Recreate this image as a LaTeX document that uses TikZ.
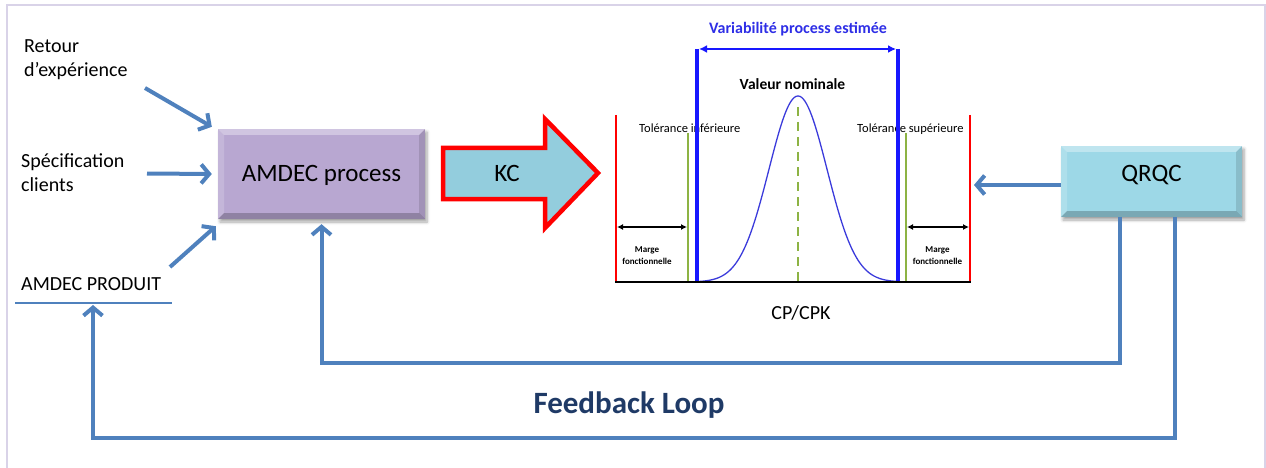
\documentclass[tikz,border=0pt]{standalone}
\usepackage{fontspec}
\setmainfont{Carlito}
\usetikzlibrary{arrows.meta,shadows.blur}
\definecolor{conn}{HTML}{4F81BD}
\definecolor{framec}{HTML}{D9D3E8}
\definecolor{amdfill}{HTML}{B8A7D1}
\definecolor{qrqcfill}{HTML}{9DD8E7}
\definecolor{kcfill}{HTML}{93CDDD}
\definecolor{tolgreen}{HTML}{8DB344}
\definecolor{titleblue}{HTML}{2E2EE6}
\definecolor{lineblue}{HTML}{1818FF}
\definecolor{gaussblue}{HTML}{3B3BDB}
\definecolor{fbnavy}{HTML}{1F3A66}
\newcommand\myfs[2]{\fontsize{#1}{#2}\selectfont}
\tikzset{
  conn/.style={draw=conn,line width=4pt},
  connarrow/.style={conn,-{Straight Barb[length=8pt,width=19pt]}},
  bevel/.style={path picture={
    \fill[white,opacity=0.35] (path picture bounding box.north west) -- (path picture bounding box.north east)
      -- ([shift={(-6pt,-6pt)}]path picture bounding box.north east) -- ([shift={(6pt,-6pt)}]path picture bounding box.north west) -- cycle;
    \fill[white,opacity=0.18] (path picture bounding box.north west) -- (path picture bounding box.south west)
      -- ([shift={(6pt,6pt)}]path picture bounding box.south west) -- ([shift={(6pt,-6pt)}]path picture bounding box.north west) -- cycle;
    \fill[black,opacity=0.12] (path picture bounding box.north east) -- (path picture bounding box.south east)
      -- ([shift={(-6pt,6pt)}]path picture bounding box.south east) -- ([shift={(-6pt,-6pt)}]path picture bounding box.north east) -- cycle;
    \fill[black,opacity=0.22] (path picture bounding box.south west) -- (path picture bounding box.south east)
      -- ([shift={(-6pt,6pt)}]path picture bounding box.south east) -- ([shift={(6pt,6pt)}]path picture bounding box.south west) -- cycle;
  }},
  bbox/.style={inner sep=0pt,bevel,blur shadow={shadow xshift=2pt,shadow yshift=-3pt,shadow blur steps=6,shadow blur radius=3pt,shadow opacity=35},
    font=\myfs{25}{30}, text height=16pt},
  sidelabel/.style={inner sep=0pt,anchor=base west,align=left,font=\myfs{20}{24}},
  tol/.style={inner sep=0pt,anchor=base west,font=\myfs{12.5}{14}},
  marge/.style={inner sep=0pt,anchor=base,align=center,font=\bfseries\myfs{9}{12}},
  dbl/.style={black,line width=1.4pt,{Latex[length=6pt,width=6pt]}-{Latex[length=6pt,width=6pt]}},
}
\begin{document}
\begin{tikzpicture}[x=1pt,y=-1pt]
\useasboundingbox (0,0) rectangle (1266,468);
% frame
\draw[framec,line width=1.5pt] (7,468) -- (7,5) -- (1265,5) -- (1265,468);

% side labels (base anchor = last line)
\node[sidelabel] (retour) at (24,77) {Retour\\d’expérience};
\node[sidelabel] (spec) at (21,191) {Spécification\\clients};
\node[sidelabel] (produit) at (21,290) {AMDEC PRODUIT};
\coordinate (ulA) at (15,303);
\coordinate (ulB) at (172,303);
\draw[conn,line width=1.3pt] (ulA) -- (ulB);

% boxes
\node[bbox,fill=amdfill,minimum width=207pt,minimum height=90pt,text depth=0pt] (amdec) at (321.5,174) {AMDEC process};
\node[bbox,fill=qrqcfill,minimum width=181pt,minimum height=71pt,text depth=15pt] (qrqc) at (1151.5,181.5) {QRQC};

% KC arrow
\fill[kcfill] (443,148) -- (545,148) -- (545,119) -- (598,173) -- (545,228) -- (545,199) -- (443,199) -- cycle;
\draw[red,line width=4.5pt,line join=miter] (443,148) -- (545,148) -- (545,119) -- (598,173) -- (545,228) -- (545,199) -- (443,199) -- cycle;
\node[inner sep=0pt,anchor=base,font=\myfs{25}{30}] (kc) at (507,182) {KC};

% input arrows
\coordinate (in1) at (145,88);
\coordinate (in2) at (147,173.5);
\coordinate (in3) at (170,267);
\draw[connarrow] (in1) -- ([shift={(-6pt,2pt)}]amdec.north west);
\draw[connarrow] (in2) -- ([xshift=-6pt]amdec.west);
\draw[connarrow] (in3) -- ([shift={(-2pt,-7pt)}]amdec.south west);

% chart
\node[inner sep=0pt,anchor=base,font=\bfseries\myfs{16}{18},text=titleblue] (vartitle) at (798,34) {Variabilité process estimée};
\node[inner sep=0pt,anchor=base,font=\bfseries\myfs{15.5}{18}] (nominal) at (792.5,90) {Valeur nominale};
\node[tol] (tolinf) at (639,133) {Tolérance inférieure};
\node[tol] (tolsup) at (857,133) {Tolérance supérieure};
\node[marge] (margeL) at (647,264) {Marge\\fonctionnelle};
\node[marge] (margeR) at (937.5,264) {Marge\\fonctionnelle};
\node[inner sep=0pt,anchor=base,font=\myfs{20}{24}] (cpk) at (801,319) {CP/CPK};

\draw[red,line width=1.2pt] (616,115) -- (616,282);
\draw[red,line width=1.2pt] (970,115) -- (970,282);
\draw[tolgreen,line width=2.5pt] (688,133) -- (688,282);
\draw[tolgreen,line width=2.5pt] (906,133) -- (906,282);
\draw[tolgreen,line width=2.5pt,dash pattern=on 9pt off 6pt] (798,107) -- (798,282);
\draw[gaussblue,line width=1.3pt] plot[domain=-101:101,samples=121] ({798+\x},{282-186*exp(-(\x*\x)/1682)});
\draw[lineblue,line width=3.5pt] (697,49) -- (697,283);
\draw[lineblue,line width=3.5pt] (898,49) -- (898,283);
\draw[lineblue,line width=2pt,{Latex[length=8pt,width=8pt]}-{Latex[length=8pt,width=8pt]}] (699,49) -- (896,49);
\draw[black,line width=2pt] (615,282) -- (971,282);
\draw[dbl] (617,227) -- (687,227);
\draw[dbl] (907,227) -- (969,227);

% QRQC to chart
\coordinate (chartR) at (974,185);
\draw[connarrow] ([yshift=-3.5pt]qrqc.west) -- (chartR);

% feedback loops
\coordinate (l1) at (321.5,363);
\coordinate (l2) at (93,438);
\coordinate (prodtip) at (93,305);
\draw[connarrow] ([xshift=-31.5pt]qrqc.south) |- (l1) -- ([yshift=-5pt]amdec.south);
\draw[connarrow] ([xshift=23.5pt]qrqc.south) |- (l2) -- (prodtip);

\node[inner sep=0pt,anchor=base,font=\bfseries\myfs{31}{36},text=fbnavy] (fb) at (629,413) {Feedback Loop};
\end{tikzpicture}
\end{document}
